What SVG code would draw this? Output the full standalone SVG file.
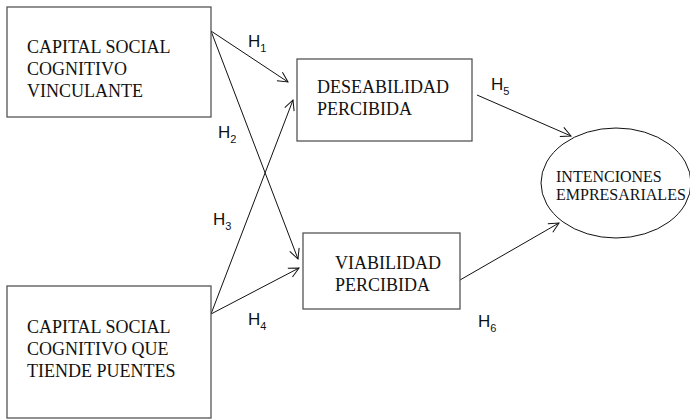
<svg xmlns="http://www.w3.org/2000/svg" width="690" height="419" viewBox="0 0 690 419">
<defs>
<style>
.box{fill:#fff;stroke:#555;stroke-width:1.3}
.t{font-family:"Liberation Serif","Times New Roman",serif;font-size:18px;fill:#111}
.ts{font-family:"Liberation Serif","Times New Roman",serif;font-size:16px;fill:#111}
.h{font-family:"Liberation Sans",Arial,sans-serif;font-size:17px;fill:#111}
.sub{font-size:11px}
.c{fill:none;stroke:#111;stroke-width:1}
</style>
<marker id="ah" viewBox="0 0 12 12" refX="11" refY="6" markerWidth="12" markerHeight="12" markerUnits="userSpaceOnUse" orient="auto">
<path d="M1,1 L11,6 L1,11" fill="none" stroke="#111" stroke-width="1"/>
</marker>
</defs>
<rect width="690" height="419" fill="#fff"/>
<g id="connectors">
<line class="c" x1="211" y1="31" x2="288" y2="82" marker-end="url(#ah)"/>
<line class="c" x1="211" y1="31" x2="298" y2="259" marker-end="url(#ah)"/>
<line class="c" x1="211" y1="314" x2="293" y2="100" marker-end="url(#ah)"/>
<line class="c" x1="211" y1="314" x2="299" y2="268" marker-end="url(#ah)"/>
<line class="c" x1="477" y1="95" x2="571" y2="136" marker-end="url(#ah)"/>
<line class="c" x1="460" y1="280" x2="559" y2="223" marker-end="url(#ah)"/>
<text class="h" x="248" y="47">H<tspan class="sub" dy="5">1</tspan></text>
<text class="h" x="218" y="138">H<tspan class="sub" dy="5">2</tspan></text>
<text class="h" x="213" y="225">H<tspan class="sub" dy="5">3</tspan></text>
<text class="h" x="248" y="325">H<tspan class="sub" dy="5">4</tspan></text>
<text class="h" x="491" y="90">H<tspan class="sub" dy="5">5</tspan></text>
<text class="h" x="478" y="327">H<tspan class="sub" dy="5">6</tspan></text>
</g>
<g id="capital-vinculante">
<rect class="box" x="7" y="7" width="204" height="110"/>
<text class="t" x="27" y="53">CAPITAL SOCIAL</text>
<text class="t" x="27" y="75">COGNITIVO</text>
<text class="t" x="27" y="97">VINCULANTE</text>
</g>
<g id="capital-puentes">
<rect class="box" x="7" y="286" width="204" height="132"/>
<text class="t" x="27" y="333">CAPITAL SOCIAL</text>
<text class="t" x="27" y="355">COGNITIVO QUE</text>
<text class="t" x="27" y="377">TIENDE PUENTES</text>
</g>
<g id="deseabilidad">
<rect class="box" x="297" y="59" width="175" height="82"/>
<text class="t" x="317" y="93">DESEABILIDAD</text>
<text class="t" x="317" y="115">PERCIBIDA</text>
</g>
<g id="viabilidad">
<rect class="box" x="303" y="233" width="157" height="76"/>
<text class="t" x="335" y="269">VIABILIDAD</text>
<text class="t" x="335" y="291">PERCIBIDA</text>
</g>
<g id="intenciones">
<ellipse cx="616" cy="183" rx="75" ry="55" fill="#fff" stroke="#111" stroke-width="1"/>
<text class="ts" x="556" y="182">INTENCIONES</text>
<text class="ts" x="556" y="200">EMPRESARIALES</text>
</g>
</svg>
